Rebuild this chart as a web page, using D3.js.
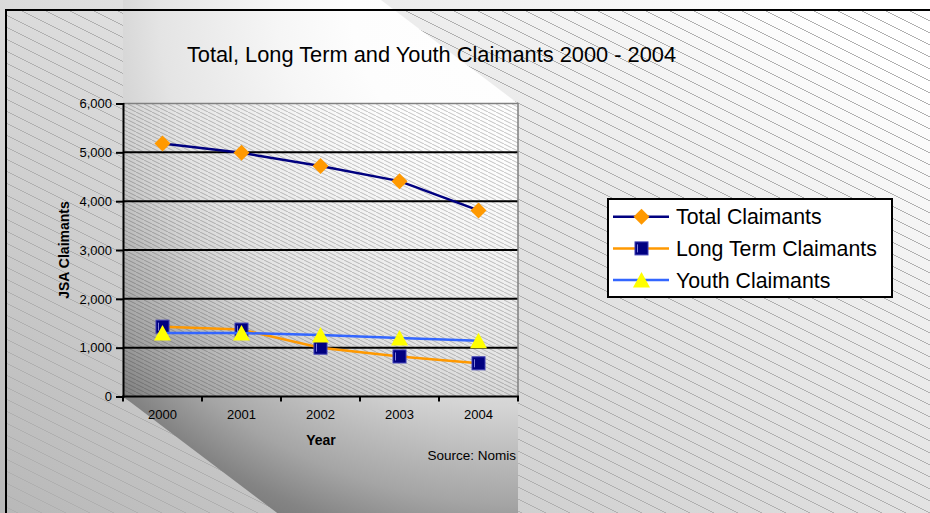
<!DOCTYPE html>
<html>
<head>
<meta charset="utf-8">
<script src="https://cdn.jsdelivr.net/npm/d3@7"></script>
<style>
  html, body { margin: 0; padding: 0; background: #ffffff; }
  svg { display: block; }
  text { font-family: "Liberation Sans", Arial, sans-serif; fill: #000; }
</style>
</head>
<body>
<div id="chart"></div>
<script>
// Claimant counts by year
const years = ["2000", "2001", "2002", "2003", "2004"];
const totalClaimants = [5180, 4990, 4720, 4410, 3810];
const longTermClaimants = [1430, 1370, 1000, 820, 680];
const youthClaimants = [1300, 1300, 1260, 1200, 1140];
const yTickValues = [0, 1000, 2000, 3000, 4000, 5000, 6000];
const seriesNames = ["Total Claimants", "Long Term Claimants", "Youth Claimants"];

const W = 930, H = 513;
const plot = { left: 123, right: 518, top: 103.5, bottom: 396.5 };

const svg = d3.select("#chart").append("svg")
  .attr("width", W).attr("height", H);
const defs = svg.append("defs");

// page background gradient (light top-right, darker bottom-left)
const bgGrad = defs.append("linearGradient").attr("id", "bgGrad")
  .attr("gradientUnits", "userSpaceOnUse")
  .attr("x1", 0).attr("y1", 513).attr("x2", 485).attr("y2", -212);
bgGrad.append("stop").attr("offset", 0).attr("stop-color", "#b8b8b8");
bgGrad.append("stop").attr("offset", 1).attr("stop-color", "#ffffff");

// sparse diagonal hatch on the chart area
const hatch = defs.append("pattern").attr("id", "hatch")
  .attr("patternUnits", "userSpaceOnUse").attr("width", 24).attr("height", 12);
hatch.append("path").attr("d", "M-2,-1L26,13")
  .attr("stroke", "#b0b0b0").attr("stroke-width", 1).attr("fill", "none")
  .attr("shape-rendering", "crispEdges");

// dense diagonal hatch on the plot area
const hatchDense = defs.append("pattern").attr("id", "hatchDense")
  .attr("patternUnits", "userSpaceOnUse").attr("width", 8).attr("height", 4);
hatchDense.append("path").attr("d", "M-2,-1L10,5")
  .attr("stroke", "rgba(40,40,40,0.28)").attr("stroke-width", 1).attr("fill", "none");

// shaded band behind the plot
const bandGrad = defs.append("radialGradient").attr("id", "bandGrad")
  .attr("gradientUnits", "userSpaceOnUse")
  .attr("cx", 518).attr("cy", 0).attr("r", 600).attr("fx", 518).attr("fy", 0);
[[0, 255], [0.28, 253], [0.4, 246], [0.6, 228], [0.68, 212], [0.76, 188],
 [0.84, 165], [0.92, 132], [1, 112]].forEach(([o, v]) => {
  bandGrad.append("stop").attr("offset", o).attr("stop-color", d3.rgb(v, v, v));
});

// background
svg.append("rect").attr("width", W).attr("height", H).attr("fill", "url(#bgGrad)");
svg.append("rect").attr("x", 6).attr("y", 10).attr("width", W - 6).attr("height", H - 10)
  .attr("fill", "url(#hatch)");

// band with diagonal cuts at top-right and bottom-left
const cutSlope = (plot.top - 0) / 137;
const band = [
  [plot.left, 0],
  [plot.right - plot.top / cutSlope, 0],
  [plot.right, plot.top],
  [plot.right, H],
  [plot.left + (H - plot.bottom) / cutSlope, H],
  [plot.left, plot.bottom]
];
svg.append("path").attr("d", d3.line()(band) + "Z").attr("fill", "url(#bandGrad)");

// plot area hatch
svg.append("rect")
  .attr("x", plot.left).attr("y", plot.top)
  .attr("width", plot.right - plot.left).attr("height", plot.bottom - plot.top)
  .attr("fill", "url(#hatchDense)");

// scales
const x = d3.scaleBand().domain(years).range([plot.left, plot.right]);
const y = d3.scaleLinear().domain([0, 6000]).range([plot.bottom, plot.top]);

// gridlines
svg.append("g").selectAll("line")
  .data(yTickValues.filter(v => v > 0 && v < 6000))
  .join("line")
  .attr("x1", plot.left).attr("x2", plot.right)
  .attr("y1", d => y(d)).attr("y2", d => y(d))
  .attr("stroke", "#000").attr("stroke-width", 2);

// plot border (top and right)
svg.append("path")
  .attr("d", `M${plot.left},${y(6000)}H${plot.right}V${plot.bottom}`)
  .attr("fill", "none").attr("stroke", "#808080").attr("stroke-width", 1.5);

// y axis
const yAxis = svg.append("g")
  .attr("transform", `translate(${plot.left},0)`)
  .call(d3.axisLeft(y).tickValues(yTickValues).tickFormat(d3.format(",")).tickSize(7).tickPadding(4));
yAxis.select(".domain").attr("stroke", "#000").attr("stroke-width", 2);
yAxis.selectAll(".tick line").attr("stroke", "#000").attr("stroke-width", 2);
yAxis.selectAll("text").style("font-size", "13px").attr("fill", "#000")
  .style("font-family", "'Liberation Sans', Arial, sans-serif");

// x axis: ticks between categories, labels at category centres
const xAxis = svg.append("g");
xAxis.append("line")
  .attr("x1", plot.left - 1).attr("x2", plot.right + 1)
  .attr("y1", plot.bottom).attr("y2", plot.bottom)
  .attr("stroke", "#000").attr("stroke-width", 2);
const boundaries = years.map(d => x(d)).concat([x(years[years.length - 1]) + x.bandwidth()]);
xAxis.selectAll(".xt").data(boundaries).join("line").attr("class", "xt")
  .attr("x1", d => d).attr("x2", d => d)
  .attr("y1", plot.bottom).attr("y2", plot.bottom + 5)
  .attr("stroke", "#000").attr("stroke-width", 2);
xAxis.selectAll(".xl").data(years).join("text").attr("class", "xl")
  .attr("x", d => x(d) + x.bandwidth() / 2)
  .attr("y", plot.bottom + 22.5)
  .attr("text-anchor", "middle")
  .style("font-size", "13px")
  .text(d => d);

// axis titles
svg.append("text")
  .attr("transform", "translate(64,250) rotate(-90)")
  .attr("text-anchor", "middle").attr("dy", "0.35em")
  .style("font-size", "14px").style("font-weight", "bold")
  .text("JSA Claimants");
svg.append("text")
  .attr("x", 321).attr("y", 445)
  .attr("text-anchor", "middle")
  .style("font-size", "14px").style("font-weight", "bold")
  .text("Year");
svg.append("text")
  .attr("x", 516).attr("y", 460)
  .attr("text-anchor", "end")
  .style("font-size", "13.5px")
  .text("Source: Nomis");

// title
svg.append("text")
  .attr("x", 431.5).attr("y", 62)
  .attr("text-anchor", "middle")
  .style("font-size", "21.8px")
  .text("Total, Long Term and Youth Claimants 2000 - 2004");

// marker drawers
function diamond(g, cx, cy) {
  g.append("path")
    .attr("d", `M${cx},${cy - 8}L${cx + 8},${cy}L${cx},${cy + 8}L${cx - 8},${cy}Z`)
    .attr("fill", "#ff9900");
}
function square(g, cx, cy) {
  g.append("rect")
    .attr("x", cx - 6.5).attr("y", cy - 6.5).attr("width", 13).attr("height", 13)
    .attr("fill", "#000080").attr("stroke", "#3c3cb4").attr("stroke-width", 1);
  g.append("line")
    .attr("x1", cx - 4).attr("x2", cx - 4).attr("y1", cy - 4).attr("y2", cy + 4)
    .attr("stroke", "#7d7dd8").attr("stroke-width", 1);
}
function triangle(g, cx, cy) {
  g.append("path")
    .attr("d", `M${cx},${cy - 8}L${cx + 8.5},${cy + 7.5}L${cx - 8.5},${cy + 7.5}Z`)
    .attr("fill", "#ffff00");
}

const series = [
  { name: seriesNames[0], values: totalClaimants, line: "#000080", marker: diamond },
  { name: seriesNames[1], values: longTermClaimants, line: "#ff9900", marker: square },
  { name: seriesNames[2], values: youthClaimants, line: "#3366ff", marker: triangle }
];

const lineGen = d3.line()
  .x((d, i) => x(years[i]) + x.bandwidth() / 2)
  .y(d => y(d));

series.forEach(s => {
  const g = svg.append("g");
  g.append("path")
    .attr("d", lineGen(s.values))
    .attr("fill", "none").attr("stroke", s.line).attr("stroke-width", 2.5);
  s.values.forEach((v, i) => s.marker(g, x(years[i]) + x.bandwidth() / 2, y(v)));
});

// legend
const legend = svg.append("g");
legend.append("rect")
  .attr("x", 608).attr("y", 199).attr("width", 284).attr("height", 98)
  .attr("fill", "#ffffff").attr("stroke", "#000").attr("stroke-width", 2);
series.forEach((s, i) => {
  const cy = 216.7 + i * 31.7;
  const g = legend.append("g");
  g.append("line")
    .attr("x1", 613).attr("x2", 669).attr("y1", cy).attr("y2", cy)
    .attr("stroke", s.line).attr("stroke-width", 2.5);
  s.marker(g, 641.5, cy);
  g.append("text")
    .attr("x", 676).attr("y", cy).attr("dy", "0.35em")
    .style("font-size", "21.3px")
    .text(s.name);
});

// chart frame
svg.append("path")
  .attr("d", `M6,${H + 2}V10H${W + 2}`)
  .attr("fill", "none").attr("stroke", "#000").attr("stroke-width", 2);
</script>
</body>
</html>
